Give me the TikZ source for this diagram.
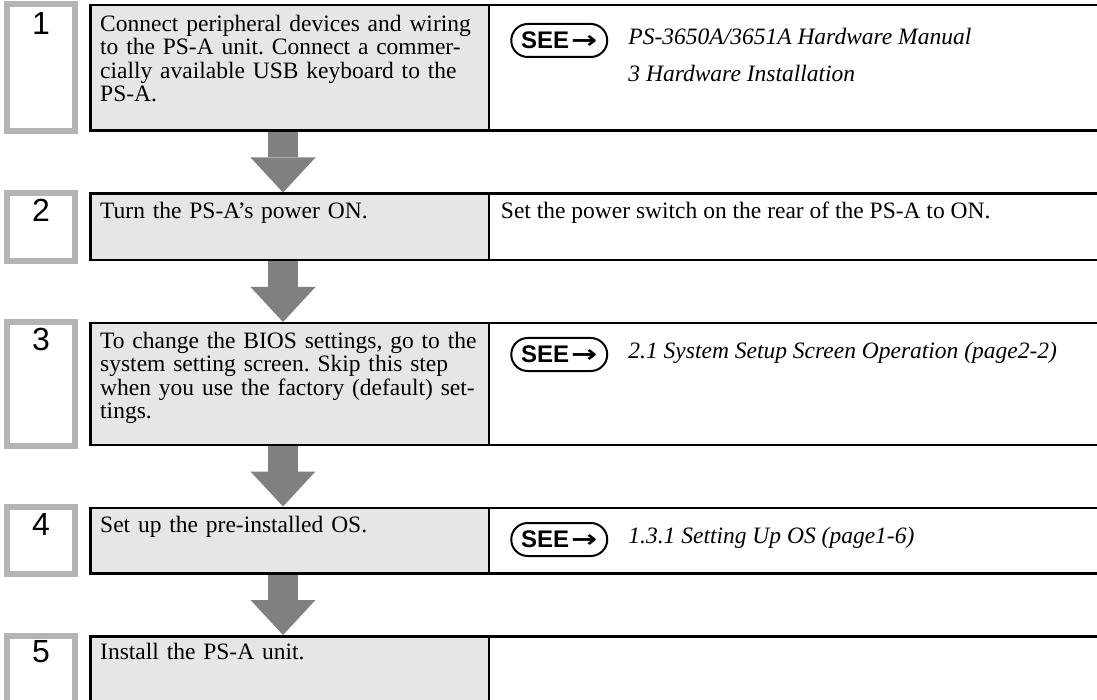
\documentclass[tikz,border=0pt]{standalone}
\usepackage{fontspec}
\usepackage{graphicx}
\setmainfont{Liberation Serif}
\newfontfamily\numfont{Liberation Sans}
\newfontfamily\arrowfont{DejaVu Sans}
\usetikzlibrary{
    arrows.meta,
    positioning
}
\definecolor{CellGray}{RGB}{230,230,230}
\definecolor{NumGray}{RGB}{180,180,180}
\definecolor{ArrowGray}{RGB}{128,128,128}
\newcommand\seemark{SEE\hspace{2pt}{\arrowfont\bfseries\scalebox{1.3}[1]{→}}}
\frenchspacing
\tikzset{
  stepcell/.style = {draw, line width=2.5pt, fill=CellGray, inner sep=0pt,
                     outer sep=0pt, minimum width=398.5pt},
  refcell/.style  = {draw, line width=2.5pt, fill=white, inner sep=0pt,
                     outer sep=0pt, minimum width=1005pt},
  numbox/.style   = {draw=NumGray, line width=6pt, fill=white, inner sep=0pt,
                     outer sep=0pt, minimum width=68pt},
  numtext/.style  = {inner sep=0pt, font=\numfont\fontsize{32}{32}\selectfont},
  celltext/.style = {inner sep=0pt, text width=385pt, align=left,
                     font=\fontsize{23.5}{23.4}\selectfont},
  notetext/.style = {inner sep=0pt, align=left, font=\fontsize{23.5}{23.4}\selectfont},
  reftext/.style  = {inner sep=0pt, align=left,
                     font=\itshape\fontsize{23.5}{23.4}\selectfont},
  seebadge/.style = {draw, line width=2pt, rounded corners=16.5pt,
                     minimum width=96pt, minimum height=33pt, inner xsep=7pt,
                     inner ysep=0pt, outer sep=0pt,
                     font=\numfont\bfseries\fontsize{24}{24}\selectfont},
  flowarr/.style  = {-{Triangle[length=35pt, width=65pt, line width=0pt]},
                     line width=30pt, ArrowGray, shorten <=1.25pt, shorten >=1.25pt}
}

\begin{document}
\begin{tikzpicture}[x=1pt, y=-1pt]
\useasboundingbox (0,0) rectangle (1097,700);
\clip (0,0) rectangle (1097,700);
\coordinate (ax) at (283,0);

% step 1
\node[stepcell, minimum height=125.5pt, anchor=north west] (s1) at (90.25,5.25) {};
\node[refcell, minimum height=125.5pt, right=0pt of s1] (r1) {};
\node[numbox, minimum height=127pt, left=15.25pt of s1] (n1) {};
\node[numtext, below=8pt of n1.north] (d1) {1};
\node[celltext, below right=9.5pt and 9.75pt of s1.north west] (t1)
     {Connect peripheral devices and wiring\\ to the PS-A unit. Connect a commer-\\
      cially available USB keyboard to the\\ PS-A.};
\node[seebadge, below right=18.75pt and 22.5pt of r1.north west] (see1) {\seemark};
\node[reftext, below right=3.5pt and 21pt of see1.north east] (ref1)
     {PS-3650A/3651A Hardware Manual\\[13.6pt] 3 Hardware Installation};

% step 2
\node[stepcell, minimum height=66.5pt, below=63pt of s1] (s2) {};
\node[refcell, minimum height=66.5pt, right=0pt of s2] (r2) {};
\node[numbox, minimum height=68pt, left=15.25pt of s2] (n2) {};
\node[numtext, below=6pt of n2.north] (d2) {2};
\node[celltext, below right=8.5pt and 9.75pt of s2.north west] (t2) {Turn the PS-A’s power ON.};
\node[notetext, below right=8.5pt and 12pt of r2.north west] (ref2)
     {Set the power switch on the rear of the PS-A to ON.};

% step 3
\node[stepcell, minimum height=121.5pt, below=63pt of s2] (s3) {};
\node[refcell, minimum height=121.5pt, right=0pt of s3] (r3) {};
\node[numbox, minimum height=123pt, left=15.25pt of s3] (n3) {};
\node[numtext, below=5pt of n3.north] (d3) {3};
\node[celltext, below right=8.5pt and 9.75pt of s3.north west] (t3)
     {To change the BIOS settings, go to the\\ system setting screen. Skip this step\\
      when you use the factory (default) set-\\ tings.};
\node[seebadge, below right=14.75pt and 22.5pt of r3.north west] (see3) {\seemark};
\node[reftext, below right=3.5pt and 21pt of see3.north east] (ref3)
     {2.1 System Setup Screen Operation (page2-2)};

% step 4
\node[stepcell, minimum height=65.5pt, below=63pt of s3] (s4) {};
\node[refcell, minimum height=65.5pt, right=0pt of s4] (r4) {};
\node[numbox, minimum height=67pt, left=15.25pt of s4] (n4) {};
\node[numtext, below=6pt of n4.north] (d4) {4};
\node[celltext, below right=8.5pt and 9.75pt of s4.north west] (t4) {Set up the pre-installed OS.};
\node[seebadge, below right=15.25pt and 22.5pt of r4.north west] (see4) {\seemark};
\node[reftext, below right=3.5pt and 21pt of see4.north east] (ref4)
     {1.3.1 Setting Up OS (page1-6)};

% step 5
\node[stepcell, minimum height=97.5pt, below=63pt of s4] (s5) {};
\node[refcell, minimum height=97.5pt, right=0pt of s5] (r5) {};
\node[numbox, minimum height=99pt, left=15.25pt of s5] (n5) {};
\node[numtext, below=5pt of n5.north] (d5) {5};
\node[celltext, below right=7pt and 9.75pt of s5.north west] (t5) {Install the PS-A unit.};

% flow arrows
\foreach \a/\b in {s1/s2, s2/s3, s3/s4, s4/s5}
  \draw[flowarr] (\a.south -| ax) -- (\b.north -| ax);
\end{tikzpicture}
\end{document}
